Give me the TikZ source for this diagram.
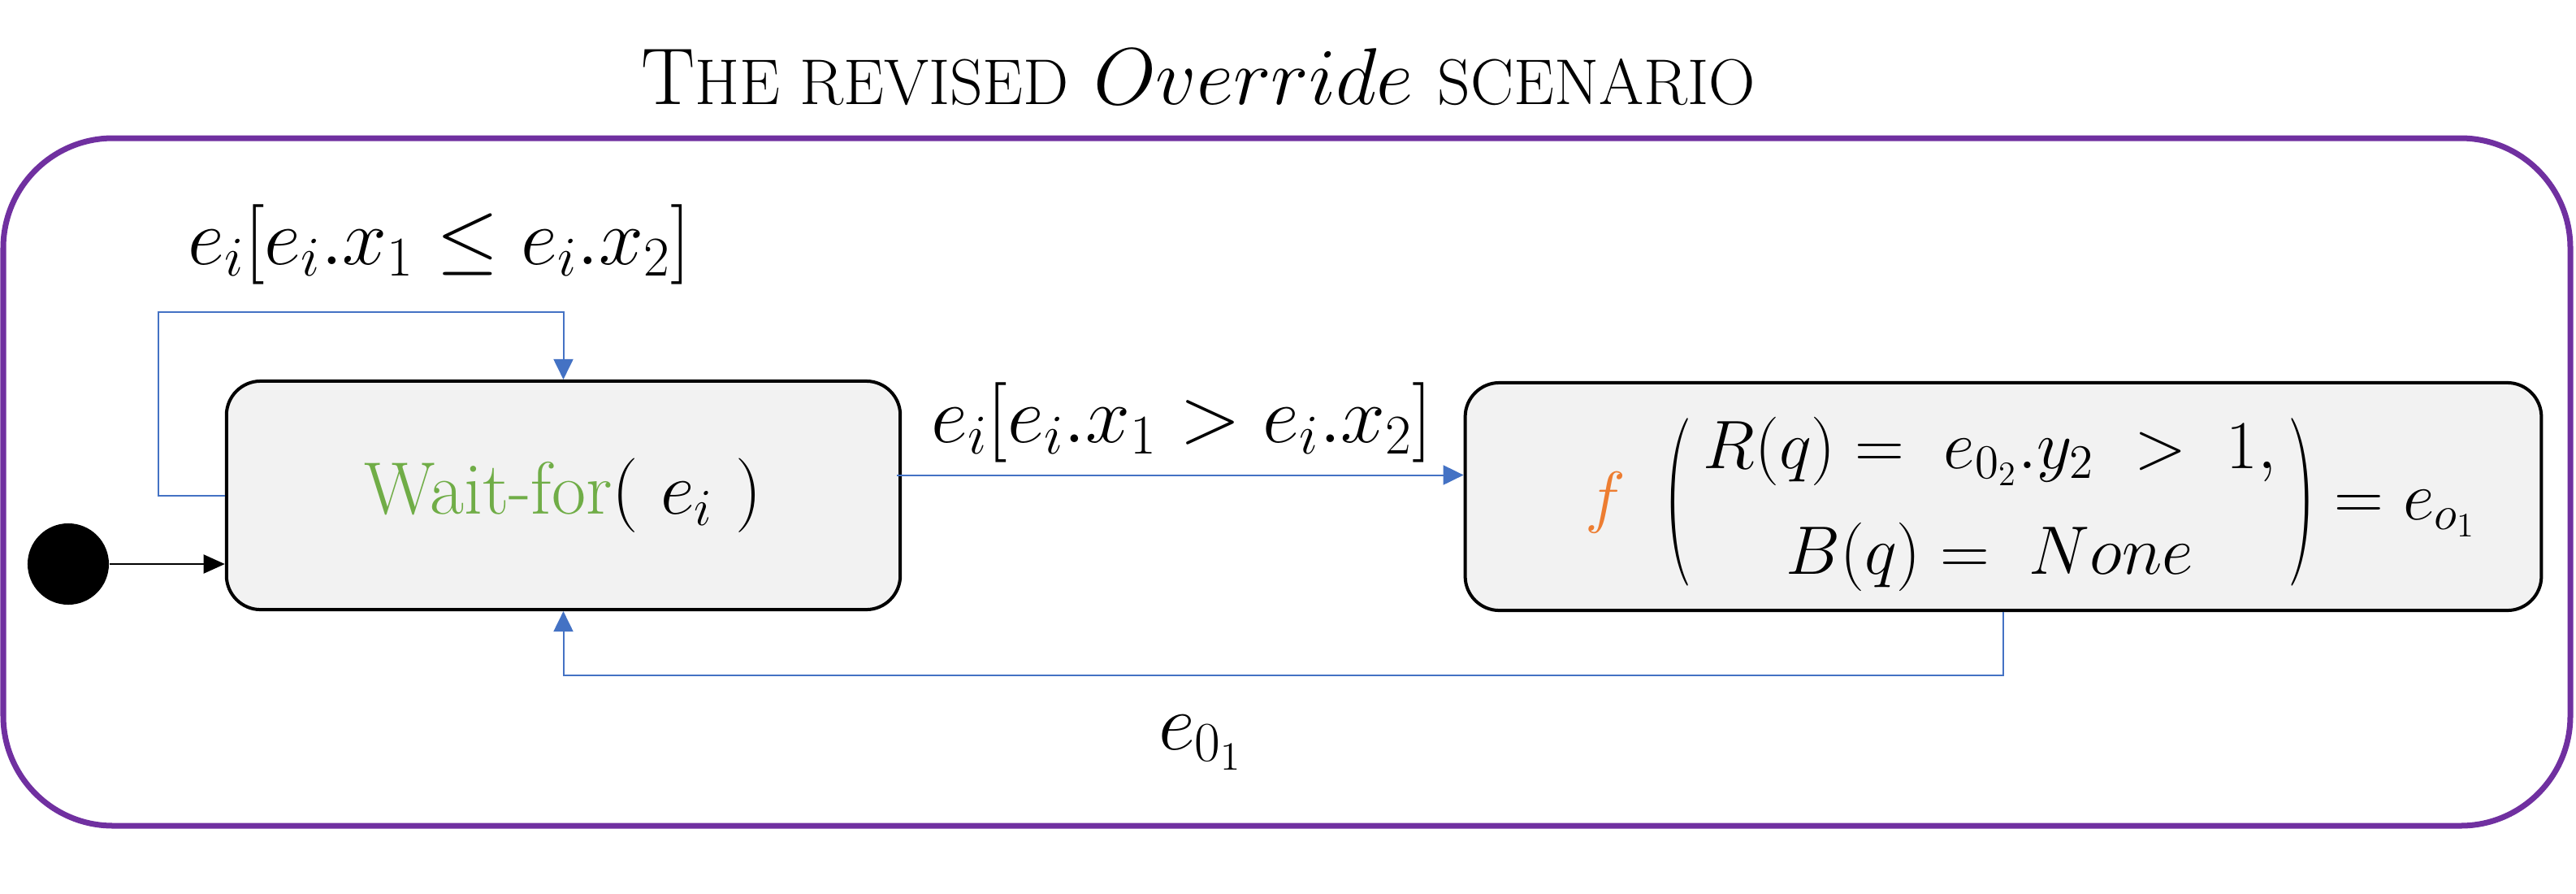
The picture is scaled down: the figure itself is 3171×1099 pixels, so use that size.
\documentclass[tikz,border=0pt]{standalone}
\usepackage{fix-cm}
\usepackage{amsmath}
\usepackage{graphicx}
\usepackage[no-math]{fontspec}
\usetikzlibrary{arrows.meta,calc}
\definecolor{ovpurple}{HTML}{7030A0}
\definecolor{arrblue}{HTML}{4472C4}
\definecolor{waitgreen}{HTML}{70AD47}
\definecolor{forange}{HTML}{ED7D31}
\definecolor{boxgray}{HTML}{F2F2F2}
\newcommand\fsc[1]{{\fontsize{22.6pt}{27pt}\selectfont #1}}
\newcommand\bigparen[1]{\vcenter{\hbox{\scalebox{1.15}[2.45]{$#1$}}}}
\begin{document}
\begin{tikzpicture}[x=0.01cm,y=-0.01cm,
  statebox/.style={draw=black,line width=0.04cm,fill=boxgray,rounded corners=0.42cm,inner sep=0pt},
  bluearr/.style={draw=arrblue,line width=0.02cm,-{Triangle[length=0.25cm,width=0.24cm]}},
  blackarr/.style={draw=black,line width=0.02cm,-{Triangle[length=0.26cm,width=0.23cm]}},
  lbl/.style={font=\fontsize{28pt}{34pt}\selectfont,inner sep=0pt,anchor=base}]
\useasboundingbox (0,0) rectangle (3171,1099);
\draw[ovpurple,line width=0.07cm,rounded corners=1.35cm] (4,170) rectangle (3164,1016);
\node[anchor=base,inner sep=0pt] (title) at (1475,128)
  {\fontsize{28.2pt}{34pt}\selectfont T\fsc{HE REVISED} $Override$ \fsc{SCENARIO}};
\node[statebox,minimum width=8.29cm,minimum height=2.81cm,font=\fontsize{26pt}{32pt}\selectfont] (wait) at (693.5,609.5)
  {\textcolor{waitgreen}{Wait-for}$(\ e_i\ )$};
\node[statebox,minimum width=13.24cm,minimum height=2.8cm] (fbox) at (2466,611) {};
\node[inner sep=0pt,font=\fontsize{24pt}{33pt}\selectfont] (fcontent) at (2500,618)
  {$\textcolor{forange}{f}\;\;\bigparen{(}\,\begin{matrix} R(q) =\ e_{0_2}.y_2\ >\ 1, \\[4pt] B(q) =\ None \end{matrix}\,\bigparen{)} = e_{o_1}$};
\node[circle,fill=black,minimum size=1cm,inner sep=0pt] (init) at (84,694) {};
\draw[blackarr] (init) -- (init -| wait.west);
\coordinate (loopleft) at ($(wait.west)+(-82,0)$);
\coordinate (looptop) at ($(wait.north)+(0,-83)$);
\draw[bluearr] (wait.west) -- (loopleft) |- (looptop) -- (wait.north);
\coordinate (tstart) at ($(wait.east)+(-6,-25)$);
\draw[bluearr] (tstart) -- (tstart -| fbox.west);
\coordinate (rcorner) at ($(wait.south)+(0,79)$);
\draw[bluearr] (fbox.south) |- (rcorner) -- (wait.south);
\node[lbl] (lblself) at (541,325) {$e_i[e_i.x_1 \leq e_i.x_2]$};
\node[lbl] (lbltrans) at (1455,544) {$e_i[e_i.x_1 > e_i.x_2]$};
\node[lbl] (lblret) at (1478,922) {$e_{0_1}$};
\end{tikzpicture}
\end{document}
